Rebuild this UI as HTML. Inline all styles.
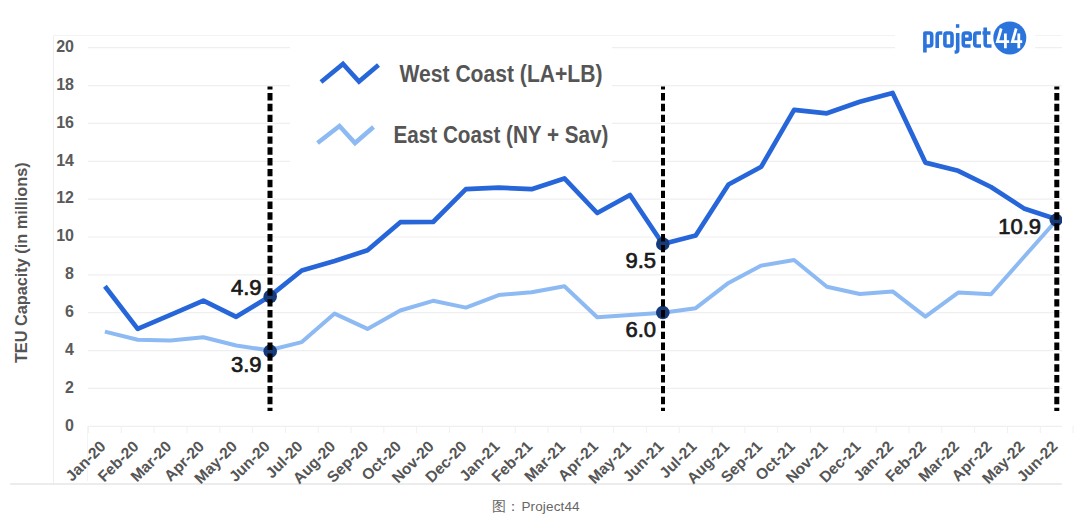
<!DOCTYPE html>
<html><head><meta charset="utf-8"><style>
html,body{margin:0;padding:0;background:#fff;}
body{width:1080px;height:523px;overflow:hidden;position:relative;}
svg{position:absolute;left:0;top:0;}
text{font-family:"Liberation Sans",sans-serif;}
.yl{font-size:16px;font-weight:bold;fill:#5a5a5a;}
.lg{font-size:23px;font-weight:bold;fill:#555;}
.dl{font-size:22px;fill:#1a1a1a;stroke:#1a1a1a;stroke-width:0.7px;}
.yt{font-size:16.3px;font-weight:bold;fill:#555;}
.xl{font-size:15.5px;font-weight:bold;fill:#555;}
.cap{position:absolute;left:492px;top:498px;white-space:nowrap;font-family:"Liberation Sans",sans-serif;font-size:13.5px;color:#666;} .cap span{margin-left:1.4px;letter-spacing:0.15px;}
</style></head><body>
<svg width="1080" height="523" viewBox="0 0 1080 523">
<line x1="53.5" y1="35.5" x2="1062" y2="35.5" stroke="#f3f3f3" stroke-width="1"/>
<line x1="53.5" y1="35.5" x2="53.5" y2="484" stroke="#eeeeee" stroke-width="1"/>
<line x1="10" y1="484" x2="1062" y2="484" stroke="#e6e6e6" stroke-width="1.5"/>
<line x1="88" y1="426.3" x2="1062" y2="426.3" stroke="#efefef" stroke-width="1.2"/>
<text x="74" y="430.5" text-anchor="end" class="yl">0</text>
<line x1="88" y1="388.4" x2="1062" y2="388.4" stroke="#efefef" stroke-width="1.2"/>
<text x="74" y="392.6" text-anchor="end" class="yl">2</text>
<line x1="88" y1="350.6" x2="1062" y2="350.6" stroke="#efefef" stroke-width="1.2"/>
<text x="74" y="354.8" text-anchor="end" class="yl">4</text>
<line x1="88" y1="312.7" x2="1062" y2="312.7" stroke="#efefef" stroke-width="1.2"/>
<text x="74" y="316.9" text-anchor="end" class="yl">6</text>
<line x1="88" y1="274.9" x2="1062" y2="274.9" stroke="#efefef" stroke-width="1.2"/>
<text x="74" y="279.1" text-anchor="end" class="yl">8</text>
<line x1="88" y1="237.0" x2="1062" y2="237.0" stroke="#efefef" stroke-width="1.2"/>
<text x="74" y="241.2" text-anchor="end" class="yl">10</text>
<line x1="88" y1="199.1" x2="1062" y2="199.1" stroke="#efefef" stroke-width="1.2"/>
<text x="74" y="203.3" text-anchor="end" class="yl">12</text>
<line x1="88" y1="161.3" x2="1062" y2="161.3" stroke="#efefef" stroke-width="1.2"/>
<text x="74" y="165.5" text-anchor="end" class="yl">14</text>
<line x1="88" y1="123.4" x2="1062" y2="123.4" stroke="#efefef" stroke-width="1.2"/>
<text x="74" y="127.6" text-anchor="end" class="yl">16</text>
<line x1="88" y1="85.6" x2="1062" y2="85.6" stroke="#efefef" stroke-width="1.2"/>
<text x="74" y="89.8" text-anchor="end" class="yl">18</text>
<line x1="88" y1="47.7" x2="1062" y2="47.7" stroke="#efefef" stroke-width="1.2"/>
<text x="74" y="51.9" text-anchor="end" class="yl">20</text>
<line x1="88.5" y1="426" x2="88.5" y2="433" stroke="#f1f1f1" stroke-width="1"/>
<line x1="121.3" y1="426" x2="121.3" y2="433" stroke="#f1f1f1" stroke-width="1"/>
<line x1="154.1" y1="426" x2="154.1" y2="433" stroke="#f1f1f1" stroke-width="1"/>
<line x1="187.0" y1="426" x2="187.0" y2="433" stroke="#f1f1f1" stroke-width="1"/>
<line x1="219.8" y1="426" x2="219.8" y2="433" stroke="#f1f1f1" stroke-width="1"/>
<line x1="252.6" y1="426" x2="252.6" y2="433" stroke="#f1f1f1" stroke-width="1"/>
<line x1="285.4" y1="426" x2="285.4" y2="433" stroke="#f1f1f1" stroke-width="1"/>
<line x1="318.2" y1="426" x2="318.2" y2="433" stroke="#f1f1f1" stroke-width="1"/>
<line x1="351.1" y1="426" x2="351.1" y2="433" stroke="#f1f1f1" stroke-width="1"/>
<line x1="383.9" y1="426" x2="383.9" y2="433" stroke="#f1f1f1" stroke-width="1"/>
<line x1="416.7" y1="426" x2="416.7" y2="433" stroke="#f1f1f1" stroke-width="1"/>
<line x1="449.5" y1="426" x2="449.5" y2="433" stroke="#f1f1f1" stroke-width="1"/>
<line x1="482.3" y1="426" x2="482.3" y2="433" stroke="#f1f1f1" stroke-width="1"/>
<line x1="515.2" y1="426" x2="515.2" y2="433" stroke="#f1f1f1" stroke-width="1"/>
<line x1="548.0" y1="426" x2="548.0" y2="433" stroke="#f1f1f1" stroke-width="1"/>
<line x1="580.8" y1="426" x2="580.8" y2="433" stroke="#f1f1f1" stroke-width="1"/>
<line x1="613.6" y1="426" x2="613.6" y2="433" stroke="#f1f1f1" stroke-width="1"/>
<line x1="646.4" y1="426" x2="646.4" y2="433" stroke="#f1f1f1" stroke-width="1"/>
<line x1="679.2" y1="426" x2="679.2" y2="433" stroke="#f1f1f1" stroke-width="1"/>
<line x1="712.1" y1="426" x2="712.1" y2="433" stroke="#f1f1f1" stroke-width="1"/>
<line x1="744.9" y1="426" x2="744.9" y2="433" stroke="#f1f1f1" stroke-width="1"/>
<line x1="777.7" y1="426" x2="777.7" y2="433" stroke="#f1f1f1" stroke-width="1"/>
<line x1="810.5" y1="426" x2="810.5" y2="433" stroke="#f1f1f1" stroke-width="1"/>
<line x1="843.4" y1="426" x2="843.4" y2="433" stroke="#f1f1f1" stroke-width="1"/>
<line x1="876.2" y1="426" x2="876.2" y2="433" stroke="#f1f1f1" stroke-width="1"/>
<line x1="909.0" y1="426" x2="909.0" y2="433" stroke="#f1f1f1" stroke-width="1"/>
<line x1="941.8" y1="426" x2="941.8" y2="433" stroke="#f1f1f1" stroke-width="1"/>
<line x1="974.6" y1="426" x2="974.6" y2="433" stroke="#f1f1f1" stroke-width="1"/>
<line x1="1007.5" y1="426" x2="1007.5" y2="433" stroke="#f1f1f1" stroke-width="1"/>
<line x1="1040.3" y1="426" x2="1040.3" y2="433" stroke="#f1f1f1" stroke-width="1"/>
<line x1="1073.1" y1="426" x2="1073.1" y2="433" stroke="#f1f1f1" stroke-width="1"/>
<line x1="87.5" y1="426" x2="87.5" y2="481" stroke="#f4f4f4" stroke-width="1"/>
<rect x="290" y="40" width="322" height="135" fill="#fff"/>
<rect x="895" y="14" width="140" height="46" fill="#fff"/>
<polyline points="321,82 343,64 359,81.5 378.5,65" fill="none" stroke="#2766d9" stroke-width="4.6" stroke-linejoin="miter" stroke-linecap="butt"/>
<text x="399.5" y="81.5" class="lg" textLength="203" lengthAdjust="spacingAndGlyphs">West Coast (LA+LB)</text>
<polyline points="317.5,143 339.5,126 355,143 373.5,127" fill="none" stroke="#8dbaf3" stroke-width="4.5" stroke-linejoin="miter"/>
<text x="393.5" y="143" class="lg" textLength="215" lengthAdjust="spacingAndGlyphs">East Coast (NY + Sav)</text>
<polyline points="104.9,331.6 137.7,339.8 170.5,340.4 203.4,337.3 236.2,345.5 269.0,350.3 301.8,342.1 334.6,313.6 367.5,328.9 400.3,310.5 433.1,300.8 465.9,307.6 498.7,295.1 531.6,292.2 564.4,286.2 597.2,317.3 630.0,315.1 662.8,312.8 695.7,308.2 728.5,282.9 761.3,265.6 794.1,260.0 826.9,286.7 859.8,294.0 892.6,291.4 925.4,316.7 958.2,292.6 991.0,294.2 1023.9,257.0 1056.7,220.0" fill="none" stroke="#8dbaf3" stroke-width="4" stroke-linejoin="round"/>
<polyline points="104.9,286.3 137.7,328.9 170.5,314.8 203.4,300.6 236.2,316.8 269.0,296.8 301.8,270.5 334.6,261.1 367.5,250.2 400.3,222.2 433.1,222.0 465.9,189.2 498.7,187.6 531.6,189.2 564.4,178.4 597.2,213.0 630.0,195.0 662.8,244.0 695.7,235.4 728.5,184.5 761.3,166.7 794.1,109.8 826.9,113.3 859.8,101.8 892.6,93.0 925.4,162.6 958.2,170.8 991.0,187.0 1023.9,208.4 1056.7,219.3" fill="none" stroke="#2766d9" stroke-width="4.7" stroke-linejoin="round"/>
<circle cx="270.2" cy="296.5" r="6.8" fill="#173a7a"/>
<circle cx="270.2" cy="351.2" r="6.8" fill="#173a7a"/>
<circle cx="662.8" cy="244.0" r="6.8" fill="#173a7a"/>
<circle cx="662.8" cy="312.5" r="6.8" fill="#173a7a"/>
<clipPath id="cp"><rect x="0" y="0" width="1062" height="523"/></clipPath>
<circle cx="1056" cy="220" r="6.5" fill="#173a7a" clip-path="url(#cp)"/>
<line x1="270" y1="86.5" x2="270" y2="411" stroke="#000" stroke-width="5" stroke-dasharray="7.4 3.45" stroke-dashoffset="4.35"/>
<line x1="663" y1="86.5" x2="663" y2="411" stroke="#000" stroke-width="4" stroke-dasharray="7.4 3.45" stroke-dashoffset="4.35"/>
<line x1="1056.8" y1="86.5" x2="1056.8" y2="411" stroke="#000" stroke-width="5" stroke-dasharray="7.4 3.45" stroke-dashoffset="4.35"/>
<text x="261.5" y="294.8" text-anchor="end" class="dl">4.9</text>
<text x="261.5" y="371.8" text-anchor="end" class="dl">3.9</text>
<text x="656" y="268.2" text-anchor="end" class="dl">9.5</text>
<text x="656" y="337.2" text-anchor="end" class="dl">6.0</text>
<text x="1041" y="233.5" text-anchor="end" class="dl">10.9</text>
<text transform="translate(27.3,262.7) rotate(-90)" text-anchor="middle" class="yt">TEU Capacity (in millions)</text>
<text transform="translate(106.7,447.5) rotate(-45)" text-anchor="end" class="xl">Jan-20</text>
<text transform="translate(139.5,447.5) rotate(-45)" text-anchor="end" class="xl">Feb-20</text>
<text transform="translate(172.3,447.5) rotate(-45)" text-anchor="end" class="xl">Mar-20</text>
<text transform="translate(205.2,447.5) rotate(-45)" text-anchor="end" class="xl">Apr-20</text>
<text transform="translate(238.0,447.5) rotate(-45)" text-anchor="end" class="xl">May-20</text>
<text transform="translate(270.8,447.5) rotate(-45)" text-anchor="end" class="xl">Jun-20</text>
<text transform="translate(303.6,447.5) rotate(-45)" text-anchor="end" class="xl">Jul-20</text>
<text transform="translate(336.4,447.5) rotate(-45)" text-anchor="end" class="xl">Aug-20</text>
<text transform="translate(369.3,447.5) rotate(-45)" text-anchor="end" class="xl">Sep-20</text>
<text transform="translate(402.1,447.5) rotate(-45)" text-anchor="end" class="xl">Oct-20</text>
<text transform="translate(434.9,447.5) rotate(-45)" text-anchor="end" class="xl">Nov-20</text>
<text transform="translate(467.7,447.5) rotate(-45)" text-anchor="end" class="xl">Dec-20</text>
<text transform="translate(500.5,447.5) rotate(-45)" text-anchor="end" class="xl">Jan-21</text>
<text transform="translate(533.4,447.5) rotate(-45)" text-anchor="end" class="xl">Feb-21</text>
<text transform="translate(566.2,447.5) rotate(-45)" text-anchor="end" class="xl">Mar-21</text>
<text transform="translate(599.0,447.5) rotate(-45)" text-anchor="end" class="xl">Apr-21</text>
<text transform="translate(631.8,447.5) rotate(-45)" text-anchor="end" class="xl">May-21</text>
<text transform="translate(664.6,447.5) rotate(-45)" text-anchor="end" class="xl">Jun-21</text>
<text transform="translate(697.5,447.5) rotate(-45)" text-anchor="end" class="xl">Jul-21</text>
<text transform="translate(730.3,447.5) rotate(-45)" text-anchor="end" class="xl">Aug-21</text>
<text transform="translate(763.1,447.5) rotate(-45)" text-anchor="end" class="xl">Sep-21</text>
<text transform="translate(795.9,447.5) rotate(-45)" text-anchor="end" class="xl">Oct-21</text>
<text transform="translate(828.7,447.5) rotate(-45)" text-anchor="end" class="xl">Nov-21</text>
<text transform="translate(861.6,447.5) rotate(-45)" text-anchor="end" class="xl">Dec-21</text>
<text transform="translate(894.4,447.5) rotate(-45)" text-anchor="end" class="xl">Jan-22</text>
<text transform="translate(927.2,447.5) rotate(-45)" text-anchor="end" class="xl">Feb-22</text>
<text transform="translate(960.0,447.5) rotate(-45)" text-anchor="end" class="xl">Mar-22</text>
<text transform="translate(992.8,447.5) rotate(-45)" text-anchor="end" class="xl">Apr-22</text>
<text transform="translate(1025.7,447.5) rotate(-45)" text-anchor="end" class="xl">May-22</text>
<text transform="translate(1058.5,447.5) rotate(-45)" text-anchor="end" class="xl">Jun-22</text>
<g fill="none" stroke="#2b74dc" stroke-width="3.6" stroke-linejoin="round">
<path d="M924.9,52.5 V33 H929.5 Q931.7,33 931.7,35.2 V43.8 Q931.7,46 929.5,46 H924.9"/>
<path d="M937.2,48 V35.2 Q937.2,33 939.4,33 H942.3"/>
<path d="M946.5,33 H950 Q952,33 952,35.2 V43.8 Q952,46 950,46 H946.5 Q944.9,46 944.9,43.8 V35.2 Q944.9,33 946.5,33 Z"/>
<path d="M957.7,33 V50 Q957.7,52 955.7,52 H954.6"/>
<path d="M970.5,46 H965.3 Q963.3,46 963.3,43.8 V35.2 Q963.3,33 965.3,33 H968.3 Q970.3,33 970.3,35.2 V39.2 H963.3"/>
<path d="M981,33 H976.5 Q974.8,33 974.8,35.2 V43.8 Q974.8,46 976.5,46 H981"/>
<path d="M985.2,27.5 V43.8 Q985.2,46 987.2,46 H991.5 M982.5,33 H990.5"/>
</g>
<rect x="955.9" y="24.2" width="3.4" height="3.6" fill="#2b74dc"/>
<circle cx="1009.8" cy="37.9" r="16.5" fill="#2b74dc"/>
<g fill="none" stroke="#fff" stroke-width="2.8" stroke-linejoin="miter">
<path d="M1001.2,28.5 L997.4,41.7 H1009.2 M1005.4,33.5 V48.2"/>
<path d="M1016.2,28.5 L1012.4,41.7 H1022.2 M1018.8,33.5 V48.2"/>
</g>
</svg>
<div class="cap">图：<span>Project44</span></div>
</body></html>
